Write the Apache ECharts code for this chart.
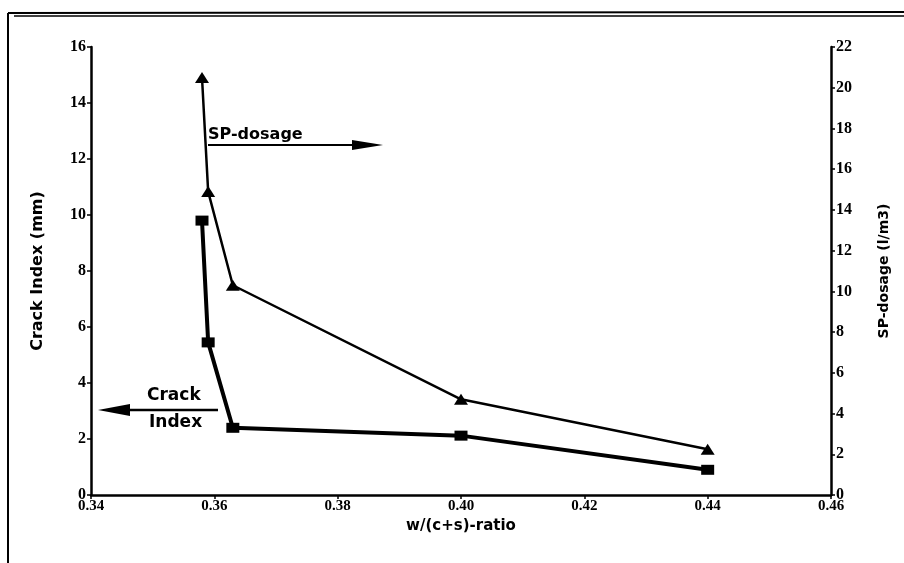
<!DOCTYPE html>
<html><head><meta charset="utf-8">
<script src="https://cdn.jsdelivr.net/npm/echarts@6/dist/echarts.min.js"></script>
<style>html,body{margin:0;padding:0;background:#fff}#c{width:904px;height:563px}</style>
</head><body><div id="c"></div>
<script>
const ratioCrack = [0.358, 0.359, 0.363, 0.40, 0.44];
const crackIndex = [9.8, 5.45, 2.4, 2.12, 0.9];
const ratioSP = [0.358, 0.359, 0.363, 0.40, 0.44];
const spDosage = [20.5, 14.9, 10.3, 4.7, 2.25];
const xTicks = [0.34, 0.36, 0.38, 0.40, 0.42, 0.44, 0.46];

const chart = echarts.init(document.getElementById('c'));
const tickFont = 'Liberation Serif';
const titleFont = 'DejaVu Sans';
const axisCommon = {
  axisLine: {show: true, lineStyle: {color: '#000', width: 2.5}},
  axisTick: {show: true, length: 4, lineStyle: {color: '#000', width: 1.5}},
  splitLine: {show: false},
  axisLabel: {color: '#000', fontFamily: tickFont, fontWeight: 'bold', fontSize: 16},
  nameTextStyle: {color: '#000', fontFamily: titleFont, fontWeight: 'bold', fontSize: 15}
};
chart.setOption({
  animation: false,
  backgroundColor: '#fff',
  grid: {left: 91, right: 73, top: 47, bottom: 68, containLabel: false},
  xAxis: Object.assign({}, axisCommon, {
    type: 'value', min: xTicks[0], max: xTicks[xTicks.length - 1], interval: 0.02,
    name: 'w/(c+s)-ratio', nameLocation: 'middle', nameGap: 19,
    axisLabel: Object.assign({}, axisCommon.axisLabel, {margin: 4, fontSize: 15, formatter: v => v.toFixed(2)})
  }),
  yAxis: [
    Object.assign({}, axisCommon, {
      type: 'value', min: 0, max: 16, interval: 2, position: 'left',
      name: 'Crack Index (mm)', nameLocation: 'middle', nameGap: 45, nameRotate: 90,
      nameTextStyle: Object.assign({}, axisCommon.nameTextStyle, {fontSize: 16}),
      axisLabel: Object.assign({}, axisCommon.axisLabel, {margin: 5})
    }),
    Object.assign({}, axisCommon, {
      type: 'value', min: 0, max: 22, interval: 2, position: 'right',
      name: 'SP-dosage (l/m3)', nameLocation: 'middle', nameGap: 46, nameRotate: 90,
      nameTextStyle: Object.assign({}, axisCommon.nameTextStyle, {fontSize: 14}),
      axisLabel: Object.assign({}, axisCommon.axisLabel, {margin: 5})
    })
  ],
  series: [
    {
      name: 'Crack Index', type: 'line', yAxisIndex: 0,
      data: ratioCrack.map((x, i) => [x, crackIndex[i]]),
      symbol: 'rect', symbolSize: [13, 10],
      lineStyle: {color: '#000', width: 4}, itemStyle: {color: '#000'}
    },
    {
      name: 'SP-dosage', type: 'line', yAxisIndex: 1,
      data: ratioSP.map((x, i) => [x, spDosage[i]]),
      symbol: 'triangle', symbolSize: [14, 11],
      lineStyle: {color: '#000', width: 2.5}, itemStyle: {color: '#000'}
    }
  ],
  graphic: [
    // frame
    {type: 'line', shape: {x1: 8, y1: 13, x2: 904, y2: 12}, style: {stroke: '#000', lineWidth: 2}},
    {type: 'line', shape: {x1: 14, y1: 16, x2: 904, y2: 16}, style: {stroke: '#000', lineWidth: 1.5}},
    {type: 'line', shape: {x1: 8, y1: 13, x2: 8, y2: 563}, style: {stroke: '#000', lineWidth: 2}},
    // SP-dosage annotation
    {type: 'text', left: 208, top: 127, style: {text: 'SP-dosage', fill: '#000', font: 'bold 16px DejaVu Sans'}},
    {type: 'line', shape: {x1: 208, y1: 145, x2: 360, y2: 145}, style: {stroke: '#000', lineWidth: 2}},
    {type: 'polygon', shape: {points: [[352, 140], [383, 145], [352, 150]]}, style: {fill: '#000'}},
    // Crack Index annotation
    {type: 'text', left: 147, top: 387, style: {text: 'Crack', fill: '#000', font: 'bold 17px DejaVu Sans'}},
    {type: 'text', left: 149, top: 414, style: {text: 'Index', fill: '#000', font: 'bold 17px DejaVu Sans'}},
    {type: 'line', shape: {x1: 120, y1: 410, x2: 218, y2: 410}, style: {stroke: '#000', lineWidth: 2.5}},
    {type: 'polygon', shape: {points: [[98, 410], [130, 404], [130, 416]]}, style: {fill: '#000'}}
  ]
});
</script>
</body></html>
